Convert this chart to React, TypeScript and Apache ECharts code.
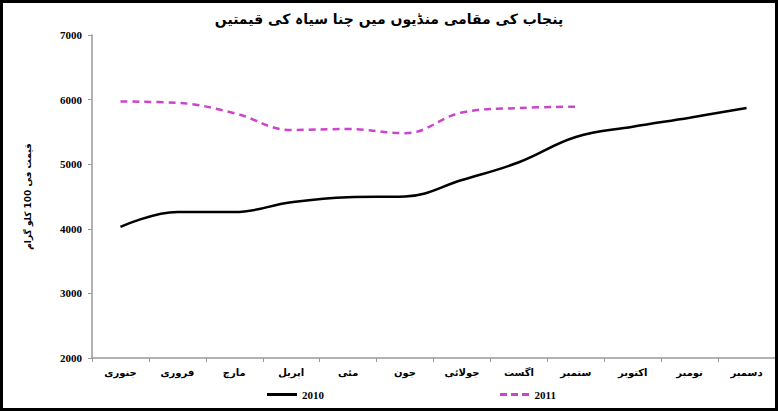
import React, { useEffect, useRef } from "react";
import * as echarts from "echarts";

const titleText = "پنجاب کی مقامی منڈیوں میں چنا سیاہ کی قیمتیں";
const yAxisName = "قیمت فی 100 کلو گرام";
const months = ["جنوری", "فروری", "مارچ", "اپریل", "مئی", "جون", "جولائی", "اگست", "ستمبر", "اکتوبر", "نومبر", "دسمبر"];
const series2010 = [4030, 4260, 4260, 4410, 4490, 4500, 4755, 5030, 5420, 5580, 5720, 5870];
const series2011 = [5970, 5950, 5790, 5530, 5545, 5480, 5800, 5870, 5890];
const name2010 = "2010";
const name2011 = "2011";

const urduFont = "'DejaVu Sans', 'Noto Sans', sans-serif";
const numFont = "'Liberation Serif', 'DejaVu Serif', serif";

export default function App() {
  const ref = useRef<HTMLDivElement>(null);
  useEffect(() => {
    document.body.style.margin = "0";
    if (!ref.current) return;
    const chart = echarts.init(ref.current, null, { renderer: "svg" });
    const legendText = { fontFamily: numFont, fontSize: 11, fontWeight: "bold", color: "#000" };
    chart.setOption({
      animation: false,
      backgroundColor: "#ffffff",
      title: {
        text: titleText,
        left: "center",
        top: 7,
        textStyle: { fontFamily: urduFont, fontSize: 14, fontWeight: "bold", color: "#000" },
      },
      legend: [
        {
          top: 384,
          left: 262,
          itemWidth: 30,
          itemHeight: 3,
          itemGap: 2,
          textStyle: legendText,
          data: [{ name: name2010, icon: "path://M0,0 L30,0 L30,3 L0,3 Z" }],
        },
        {
          top: 384,
          left: 495,
          itemWidth: 30,
          itemHeight: 3,
          itemGap: 2,
          textStyle: legendText,
          data: [{ name: name2011, icon: "path://M0,0 L7,0 L7,3 L0,3 Z M11,0 L18,0 L18,3 L11,3 Z M22,0 L29,0 L29,3 L22,3 Z" }],
        },
      ],
      grid: { left: 92, right: 3, top: 35, bottom: 53 },
      xAxis: {
        type: "category",
        data: months,
        boundaryGap: true,
        axisLine: { lineStyle: { color: "#999", width: 1.5 } },
        axisTick: { show: true, lineStyle: { color: "#999" }, length: 4 },
        axisLabel: { fontFamily: urduFont, fontSize: 10, fontWeight: "bold", color: "#000", margin: 9 },
      },
      yAxis: {
        type: "value",
        min: 2000,
        max: 7000,
        interval: 1000,
        name: yAxisName,
        nameLocation: "middle",
        nameGap: 60,
        nameRotate: 90,
        nameTextStyle: { fontFamily: urduFont, fontSize: 9, fontWeight: "bold", color: "#000" },
        splitLine: { show: false },
        axisLine: { show: true, lineStyle: { color: "#999", width: 1.5 } },
        axisTick: { show: true, lineStyle: { color: "#999" }, length: 4 },
        axisLabel: {
          fontFamily: numFont,
          fontSize: 11,
          fontWeight: "bold",
          color: "#000",
          margin: 10,
          formatter: (v: number) => String(v),
        },
      },
      series: [
        {
          name: name2010,
          type: "line",
          data: series2010,
          smooth: 0.4,
          showSymbol: false,
          symbol: "none",
          lineStyle: { color: "#000", width: 2.5 },
          itemStyle: { color: "#000" },
        },
        {
          name: name2011,
          type: "line",
          data: series2011,
          smooth: 0.4,
          showSymbol: false,
          symbol: "none",
          lineStyle: { color: "#cc44cc", width: 2.5, type: [7, 5] },
          itemStyle: { color: "#cc44cc" },
        },
      ],
    });
    return () => chart.dispose();
  }, []);
  return (
    <div style={{ position: "absolute", left: 0, top: 0, width: 778, height: 411 }}>
      <div ref={ref} style={{ position: "absolute", left: 0, top: 0, width: 778, height: 411 }} />
      <div
        style={{
          position: "absolute",
          left: 0,
          top: 0,
          width: 778,
          height: 411,
          boxSizing: "border-box",
          border: "3px solid #000",
          pointerEvents: "none",
        }}
      />
    </div>
  );
}
